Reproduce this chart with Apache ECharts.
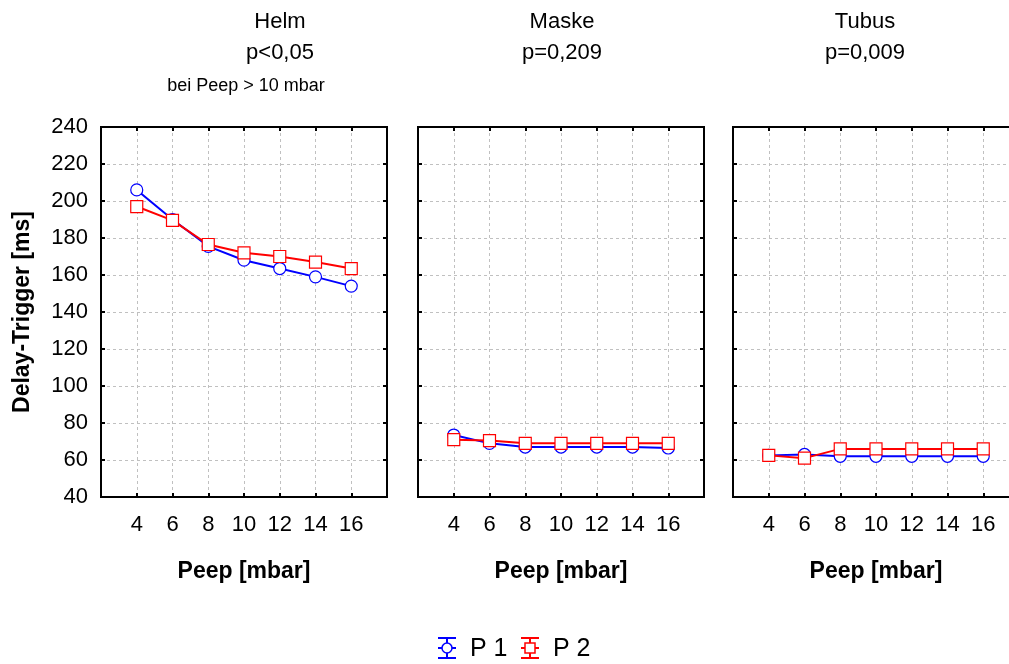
<!DOCTYPE html>
<html><head><meta charset="utf-8">
<script src="https://cdn.jsdelivr.net/npm/echarts@6/dist/echarts.min.js"></script>
<style>html,body{margin:0;padding:0;background:#fff;overflow:hidden}#c{width:1040px;height:664px}</style>
</head><body><div id="c"></div>
<script>
const peep = [4, 6, 8, 10, 12, 14, 16];
const helmP1 = [206, 190, 175.5, 168, 163.5, 159, 154];
const helmP2 = [197, 189.5, 176.5, 172, 170, 167, 163.5];
const maskeP1 = [73.5, 69, 67, 67, 67, 67, 66.5];
const maskeP2 = [71, 70.5, 69, 69, 69, 69, 69];
const tubusP1 = [62.5, 63, 62, 62, 62, 62, 62];
const tubusP2 = [62.5, 61, 66, 66, 66, 66, 66];
const panelTitles = ['Helm', 'Maske', 'Tubus'];
const panelPValues = ['p<0,05', 'p=0,209', 'p=0,009'];
const helmNote = 'bei Peep > 10 mbar';
const seriesNames = ['P 1', 'P 2'];

const FONT = 'Liberation Sans, Arial, sans-serif';
const panels = [
  {left: 101, p1: helmP1, p2: helmP2, tx: 280},
  {left: 418, p1: maskeP1, p2: maskeP2, tx: 562},
  {left: 733, p1: tubusP1, p2: tubusP2, tx: 865}
];
const W = 286, TOP = 127, H = 370;

const grids = [], xAxes = [], yAxes = [], series = [], graphics = [];
panels.forEach((p, i) => {
  grids.push({left: p.left, top: TOP, width: W, height: H, show: true, borderColor: '#000', borderWidth: 2, backgroundColor: 'transparent'});
  xAxes.push({
    type: 'value', gridIndex: i, min: 2, max: 18, interval: 2, position: 'bottom',
    name: 'Peep [mbar]', nameLocation: 'middle', nameGap: 63,
    nameTextStyle: {fontFamily: FONT, fontSize: 23, fontWeight: 'bold', color: '#000'},
    axisLine: {show: true, lineStyle: {color: '#000', width: 2}},
    axisTick: {show: true, inside: true, length: 4, lineStyle: {color: '#000', width: 2}},
    axisLabel: {fontFamily: FONT, fontSize: 22, color: '#000', margin: 17,
      formatter: v => (v === 2 || v === 18) ? '' : String(v)},
    splitLine: {show: true, lineStyle: {color: '#c0c0c0', type: [3, 3], width: 1}}
  });
  xAxes.push({
    type: 'value', gridIndex: i, min: 2, max: 18, interval: 2, position: 'top',
    axisLine: {show: true, lineStyle: {color: '#000', width: 2}},
    axisTick: {show: true, inside: true, length: 4, lineStyle: {color: '#000', width: 2}},
    axisLabel: {show: false}, splitLine: {show: false}
  });
  yAxes.push({
    type: 'value', gridIndex: i, min: 40, max: 240, interval: 20, position: 'left',
    name: i === 0 ? 'Delay-Trigger [ms]' : '', nameLocation: 'middle', nameGap: 67, nameRotate: 90,
    nameTextStyle: {fontFamily: FONT, fontSize: 23, fontWeight: 'bold', color: '#000'},
    axisLine: {show: true, lineStyle: {color: '#000', width: 2}},
    axisTick: {show: true, inside: true, length: 4, lineStyle: {color: '#000', width: 2}},
    axisLabel: {show: i === 0, fontFamily: FONT, fontSize: 22, color: '#000', margin: 13},
    splitLine: {show: true, lineStyle: {color: '#c0c0c0', type: [3, 3], width: 1}}
  });
  yAxes.push({
    type: 'value', gridIndex: i, min: 40, max: 240, interval: 20, position: 'right',
    axisLine: {show: true, lineStyle: {color: '#000', width: 2}},
    axisTick: {show: true, inside: true, length: 4, lineStyle: {color: '#000', width: 2}},
    axisLabel: {show: false}, splitLine: {show: false}
  });
  const xi = i * 2, yi = i * 2;
  series.push({
    name: seriesNames[0], type: 'line', xAxisIndex: xi, yAxisIndex: yi,
    data: peep.map((x, k) => [x, p.p1[k]]),
    symbol: 'circle', symbolSize: 12, showSymbol: true,
    lineStyle: {color: '#0000ff', width: 2},
    itemStyle: {color: '#fff', borderColor: '#0000ff', borderWidth: 1.2},
    z: 3, silent: true, animation: false
  });
  series.push({
    name: seriesNames[1], type: 'line', xAxisIndex: xi, yAxisIndex: yi,
    data: peep.map((x, k) => [x, p.p2[k]]),
    symbol: 'rect', symbolSize: 12, showSymbol: true,
    lineStyle: {color: '#ff0000', width: 2},
    itemStyle: {color: '#fff', borderColor: '#ff0000', borderWidth: 1.2},
    z: 4, silent: true, animation: false
  });
  graphics.push({type: 'text', x: p.tx, y: 22, style: {text: panelTitles[i], font: '22px ' + FONT, fill: '#000', textAlign: 'center', textVerticalAlign: 'middle'}});
  graphics.push({type: 'text', x: p.tx, y: 53, style: {text: panelPValues[i], font: '22px ' + FONT, fill: '#000', textAlign: 'center', textVerticalAlign: 'middle'}});
});
graphics.push({type: 'text', x: 246, y: 86, style: {text: helmNote, font: '18px ' + FONT, fill: '#000', textAlign: 'center', textVerticalAlign: 'middle'}});

function legendIcon(cx, cy, color, shape) {
  const ch = [];
  const s = {stroke: color, lineWidth: 2};
  ch.push({type: 'line', shape: {x1: cx, y1: cy - 10, x2: cx, y2: cy + 10}, style: s});
  ch.push({type: 'line', shape: {x1: cx - 9, y1: cy - 10, x2: cx + 9, y2: cy - 10}, style: s});
  ch.push({type: 'line', shape: {x1: cx - 9, y1: cy + 10, x2: cx + 9, y2: cy + 10}, style: s});
  ch.push({type: 'line', shape: {x1: cx - 9, y1: cy, x2: cx + 9, y2: cy}, style: s});
  if (shape === 'circle') ch.push({type: 'circle', shape: {cx: cx, cy: cy, r: 5}, style: {fill: '#fff', stroke: color, lineWidth: 1.5}});
  else ch.push({type: 'rect', shape: {x: cx - 5, y: cy - 5, width: 10, height: 10}, style: {fill: '#fff', stroke: color, lineWidth: 1.5}});
  return ch;
}
const LY = 648;
graphics.push(...legendIcon(447, LY, '#0000ff', 'circle'));
graphics.push({type: 'text', x: 470, y: LY + 1, style: {text: seriesNames[0], font: '25px ' + FONT, fill: '#000', textVerticalAlign: 'middle'}});
graphics.push(...legendIcon(530, LY, '#ff0000', 'rect'));
graphics.push({type: 'text', x: 553, y: LY + 1, style: {text: seriesNames[1], font: '25px ' + FONT, fill: '#000', textVerticalAlign: 'middle'}});

const chart = echarts.init(document.getElementById('c'), null, {renderer: 'canvas'});
chart.setOption({
  animation: false,
  backgroundColor: '#fff',
  grid: grids, xAxis: xAxes, yAxis: yAxes, series: series,
  graphic: graphics
});
</script></body></html>
